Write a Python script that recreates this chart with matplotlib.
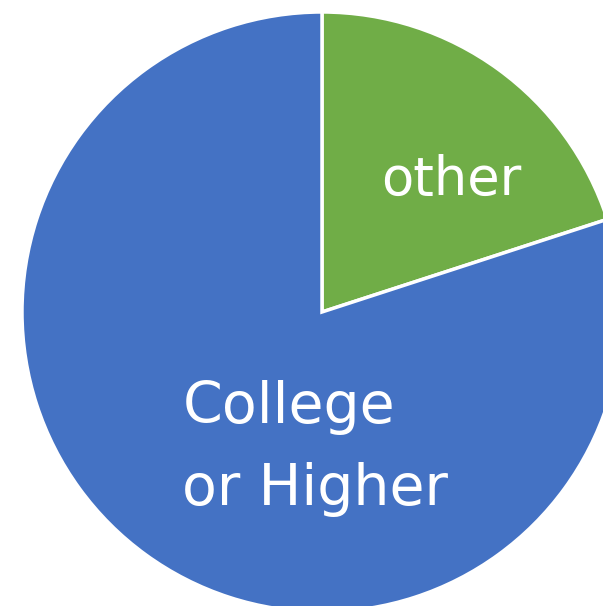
import matplotlib.pyplot as plt

labels = ["other", "College\nor Higher"]
shares = [20, 80]
colors = ["#70AD47", "#4472C4"]

fig = plt.figure(figsize=(6.03, 6.06), dpi=100)
ax = fig.add_axes([0, 0, 1, 1])

# pie centred at pixel (322, 312), radius 300 px -> 1 data unit = 300 px
ax.pie(shares, colors=colors, startangle=90, counterclock=False, radius=1,
       wedgeprops=dict(edgecolor="white", linewidth=2.5))
ax.set_aspect("auto")
ax.set_xlim(-322 / 300, 281 / 300)
ax.set_ylim(-294 / 300, 312 / 300)
ax.axis("off")

ax.text(0.43, 0.44, labels[0], color="white", fontsize=38, family="DejaVu Sans",
        ha="center", va="center")
ax.text(-0.465, -0.455, labels[1], color="white", fontsize=41, family="DejaVu Sans",
        ha="left", va="center", linespacing=1.62)

fig.savefig("out.png", dpi=100, facecolor="white")
